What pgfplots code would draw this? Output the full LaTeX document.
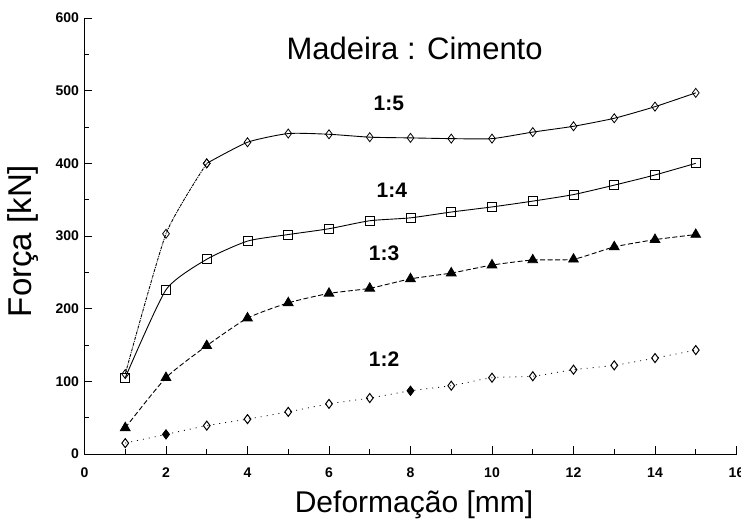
\documentclass[border=0pt]{standalone}
\usepackage{fontspec}
\setmainfont{Liberation Sans}
\usepackage{pgfplots}
\pgfplotsset{compat=1.18}
\begin{document}
\begin{tikzpicture}[x=1pt,y=1pt]
\useasboundingbox (-84.5,-68) rectangle (656.5,454);
\begin{axis}[
  at={(0,0)}, anchor=south west,
  scale only axis, width=652pt, height=436pt,
  xmin=0, xmax=16, ymin=0, ymax=600,
  axis lines=left, axis line style={-, line width=1pt},
  tick align=inside,
  xtick={0,2,...,16}, ytick={0,100,...,600},
  minor x tick num=1, minor y tick num=1,
  major tick length=8pt, minor tick length=5pt,
  every tick/.style={line width=0.9pt, black},
  /pgf/number format/assume math mode=true,
  ticklabel style={font=\fontsize{14}{14}\selectfont\bfseries},
  xticklabel style={yshift=-10pt},
  yticklabel style={xshift=-2pt},
  xlabel={Deformação [mm]},
  ylabel={Força [kN]},
  xlabel style={at={(axis description cs:0.5054,0)}, anchor=base, yshift=-58pt, font=\fontsize{30}{30}\selectfont},
  ylabel style={at={(axis description cs:-0.0943,0.4885)}, anchor=center, font=\fontsize{33}{33}\selectfont},
  clip=false,
  every axis plot/.append style={tension=0.35},
]
% 1:5
\addplot[black, line width=0.9pt, densely dashdotted, smooth, mark=diamond, mark size=4.5pt, mark options={solid, line width=0.8pt}]
 coordinates {(1,110)(2,303)(3,400)};
\addplot[black, line width=0.9pt, smooth, mark=diamond, mark size=4.5pt, mark options={solid, line width=0.8pt}]
 coordinates {(3,400)(4,429)(5,441)(6,440)(7,436)(8,435)(9,434)(10,434)(11,443)(12,451)(13,462)(14,478)(15,497)};
% 1:4
\addplot[black, line width=0.9pt, smooth, mark=square, mark size=4.5pt, mark options={solid, line width=0.8pt}]
 coordinates {(1,105)(2,226)(3,268)(4,293)(5,302)(6,310)(7,321)(8,325)(9,333)(10,340)(11,348)(12,357)(13,370)(14,384)(15,400)};
% 1:3
\addplot[black, line width=0.9pt, dash pattern=on 5pt off 2.5pt, smooth, mark=triangle*, mark size=5.5pt, mark options={solid}]
 coordinates {(1,36)(2,105)(3,149)(4,187)(5,208)(6,221)(7,228)(8,241)(9,249)(10,260)(11,267)(12,268)(13,285)(14,295)(15,302)};
% 1:2
\addplot[black, line width=0.8pt, dash pattern=on 1pt off 5pt, smooth, mark=diamond, mark size=4.5pt, mark options={solid, line width=1pt, fill=white}]
 coordinates {(1,15)(2,27)(3,39)(4,48)(5,58)(6,69)(7,77)(8,87)(9,94)(10,105)(11,107)(12,116)(13,122)(14,132)(15,143)};
\addplot[only marks, black, mark=diamond*, mark size=4.5pt]
 coordinates {(2,27)(8,87)};
\node[font=\fontsize{31}{31}\selectfont] at (axis cs:8.1,558) {Madeira : Cimento};
\node[font=\fontsize{21}{21}\selectfont\bfseries] at (axis cs:7.47,483) {1:5};
\node[font=\fontsize{21}{21}\selectfont\bfseries] at (axis cs:7.54,363) {1:4};
\node[font=\fontsize{21}{21}\selectfont\bfseries] at (axis cs:7.35,276) {1:3};
\node[font=\fontsize{21}{21}\selectfont\bfseries] at (axis cs:7.35,131) {1:2};
\end{axis}
\end{tikzpicture}
\end{document}
